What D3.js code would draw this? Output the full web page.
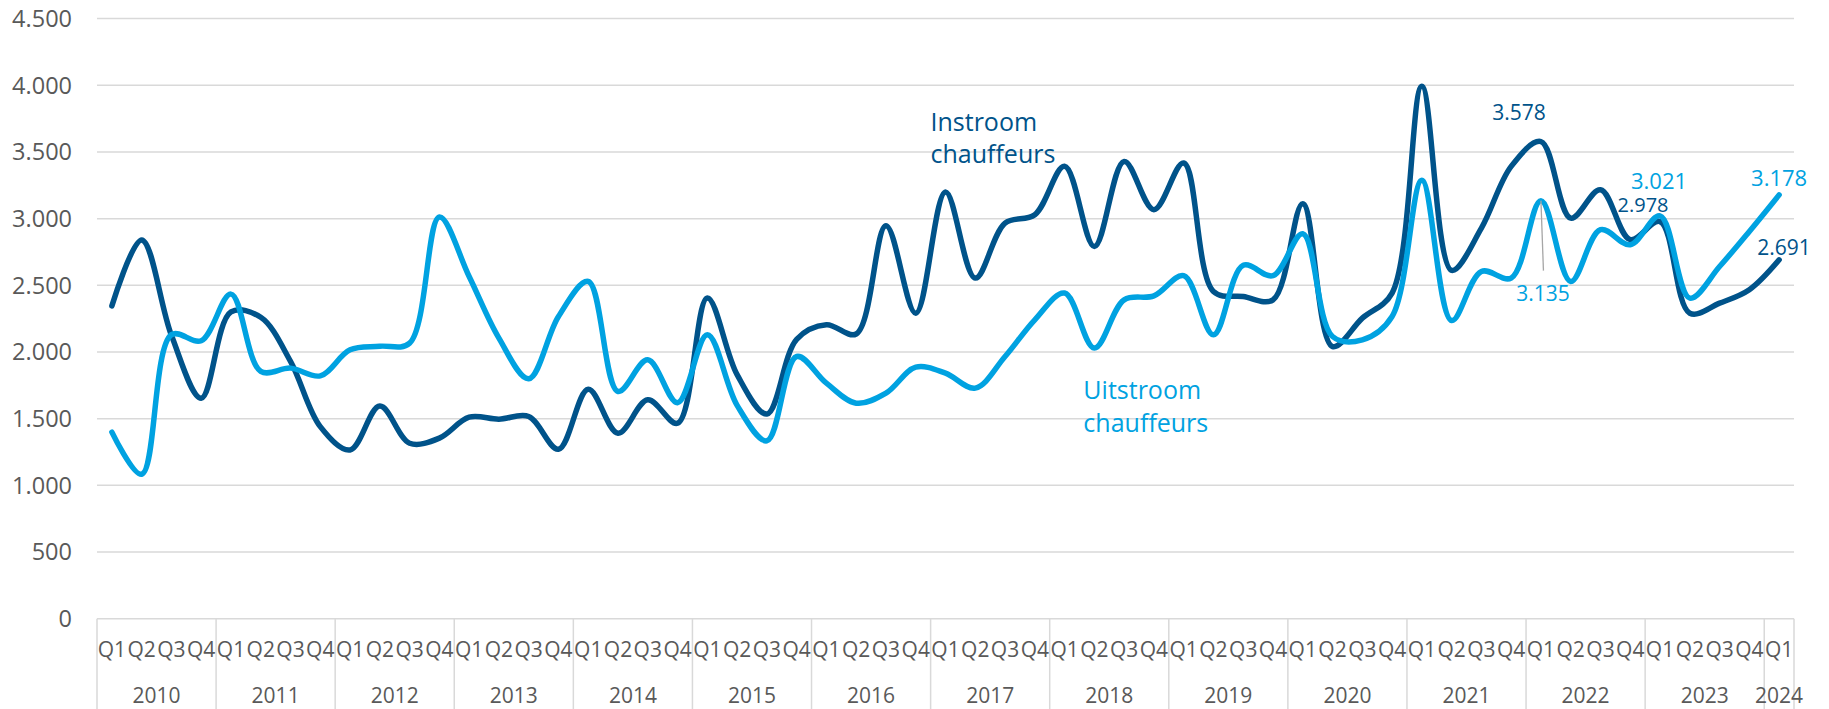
<!DOCTYPE html>
<html>
<head>
<meta charset="utf-8">
<script src="https://cdn.jsdelivr.net/npm/d3@7"></script>
<style>
  html, body { margin: 0; padding: 0; background: #fff; }
  svg { display: block; font-family: "Open Sans", sans-serif; }
</style>
</head>
<body>
<svg id="chart" width="1829" height="709"></svg>
<script>
const years = ["2010","2011","2012","2013","2014","2015","2016","2017","2018","2019","2020","2021","2022","2023","2024"];
const quarters = ["Q1","Q2","Q3","Q4"];
const categories = [];
years.forEach(yr => quarters.forEach(q => { if (!(yr === "2024" && q !== "Q1")) categories.push({year: yr, q: q}); }));

const instroom = [
  2346, 2840, 2125, 1654, 2300, 2260, 1930, 1440, 1265, 1595,
  1316, 1354, 1511, 1496, 1516, 1271, 1721, 1391, 1641, 1466,
  2404, 1830, 1535, 2095, 2204, 2135, 2947, 2291, 3200, 2554,
  2967, 3029, 3392, 2791, 3429, 3067, 3417, 2454, 2416, 2391,
  3112, 2041, 2254, 2442, 3992, 2612, 2929, 3392, 3578, 3004,
  3217, 2842, 2978, 2291, 2366, 2467, 2691
];
const uitstroom = [
  1399, 1083, 2130, 2084, 2434, 1854, 1879, 1821, 2016, 2043,
  2066, 3012, 2566, 2104, 1799, 2266, 2529, 1704, 1941, 1620,
  2129, 1600, 1334, 1966, 1766, 1616, 1691, 1886, 1841, 1729,
  1966, 2241, 2442, 2029, 2391, 2421, 2572, 2129, 2650, 2572,
  2887, 2116, 2091, 2266, 3287, 2236, 2604, 2554, 3135, 2529,
  2917, 2804, 3021, 2404, 2641, 2904, 3178
];
const yTicks = [0, 500, 1000, 1500, 2000, 2500, 3000, 3500, 4000, 4500];
const seriesNames = ["Instroom chauffeurs", "Uitstroom chauffeurs"];
const dataLabels = [
  {series: 0, index: 48, text: "3.578", dx: -22, dy: -22, size: 21},
  {series: 1, index: 48, text: "3.135", dx: 2, dy: 100, size: 21, leader: true},
  {series: 1, index: 52, text: "3.021", dx: -1, dy: -27, size: 22},
  {series: 0, index: 52, text: "2.978", dx: -17, dy: -10, size: 20},
  {series: 1, index: 56, text: "3.178", dx: 0, dy: -9, size: 22},
  {series: 0, index: 56, text: "2.691", dx: 5, dy: -5, size: 21}
];

const colors = ["#00538a", "#00a2e1"];
const svg = d3.select("#chart");
const plotLeft = 97, plotRight = 1794, plotTop = 18.6, plotBottom = 618.7;

const x = d3.scaleBand().domain(d3.range(categories.length)).range([plotLeft, plotRight]).paddingInner(0).paddingOuter(0);
const cx = i => x(i) + x.bandwidth() / 2;
const y = d3.scaleLinear().domain([0, 4500]).range([plotBottom, plotTop]);

// gridlines
svg.append("g").selectAll("line").data(yTicks.filter(d => d > 0)).join("line")
  .attr("x1", plotLeft).attr("x2", plotRight)
  .attr("y1", d => y(d)).attr("y2", d => y(d))
  .attr("stroke", "#d9d9d9").attr("stroke-width", 1.5);

// y labels
const fmt = d => d === 0 ? "0" : d3.format(",")(d).replace(/,/g, ".");
svg.append("g").selectAll("text").data(yTicks).join("text")
  .attr("x", 72).attr("y", d => y(d)).attr("dy", "0.36em")
  .attr("text-anchor", "end").attr("font-size", 23.5).attr("fill", "#595959")
  .text(fmt);

// x axis line
svg.append("line").attr("x1", plotLeft).attr("x2", plotRight).attr("y1", plotBottom).attr("y2", plotBottom)
  .attr("stroke", "#d9d9d9").attr("stroke-width", 1.5);

// year separators
const seps = [];
categories.forEach((c, i) => { if (c.q === "Q1") seps.push(x(i)); });
seps.push(x(categories.length - 1) + x.bandwidth());
svg.append("g").selectAll("line").data(seps).join("line")
  .attr("x1", d => d).attr("x2", d => d).attr("y1", plotBottom).attr("y2", 709)
  .attr("stroke", "#d9d9d9").attr("stroke-width", 1.5);

// quarter labels
svg.append("g").selectAll("text").data(categories).join("text")
  .attr("x", (d, i) => cx(i)).attr("y", 657)
  .attr("text-anchor", "middle").attr("font-size", 21).attr("fill", "#595959")
  .text(d => d.q);

// year labels
const yearGroups = d3.groups(categories.map((c, i) => ({...c, i})), d => d.year);
svg.append("g").selectAll("text").data(yearGroups).join("text")
  .attr("x", d => (x(d[1][0].i) + x(d[1][d[1].length - 1].i) + x.bandwidth()) / 2)
  .attr("y", 703)
  .attr("text-anchor", "middle").attr("font-size", 21).attr("fill", "#595959")
  .text(d => d[0]);

// lines
const line = d3.line().x((d, i) => cx(i)).y(d => y(d)).curve(d3.curveCatmullRom.alpha(0.5));
[instroom, uitstroom].forEach((s, k) => {
  svg.append("path").datum(s).attr("d", line)
    .attr("fill", "none").attr("stroke", colors[k]).attr("stroke-width", 5.5)
    .attr("stroke-linejoin", "round").attr("stroke-linecap", "round");
});

// data labels
const seriesData = [instroom, uitstroom];
dataLabels.forEach(l => {
  const px = cx(l.index), py = y(seriesData[l.series][l.index]);
  if (l.leader) {
    svg.append("line").attr("x1", px).attr("y1", py).attr("x2", px + 2.5).attr("y2", py + l.dy - 30)
      .attr("stroke", "#a6a6a6").attr("stroke-width", 1.3);
  }
  svg.append("text").attr("x", px + l.dx).attr("y", py + l.dy)
    .attr("text-anchor", "middle").attr("font-size", l.size).attr("fill", colors[l.series])
    .text(l.text);
});

// series labels
const seriesLabelPos = [{i: 28, v: 3200, dx: -15, dy: -61}, {i: 33, v: 2029, dx: -11, dy: 51}];
seriesNames.forEach((name, k) => {
  const p = seriesLabelPos[k];
  const t = svg.append("text").attr("font-size", 25).attr("fill", colors[k]);
  const words = name.split(" ");
  words.forEach((w, j) => {
    t.append("tspan").attr("x", cx(p.i) + p.dx).attr("y", y(p.v) + p.dy + j * 32.5).text(w);
  });
});
</script>
</body>
</html>
